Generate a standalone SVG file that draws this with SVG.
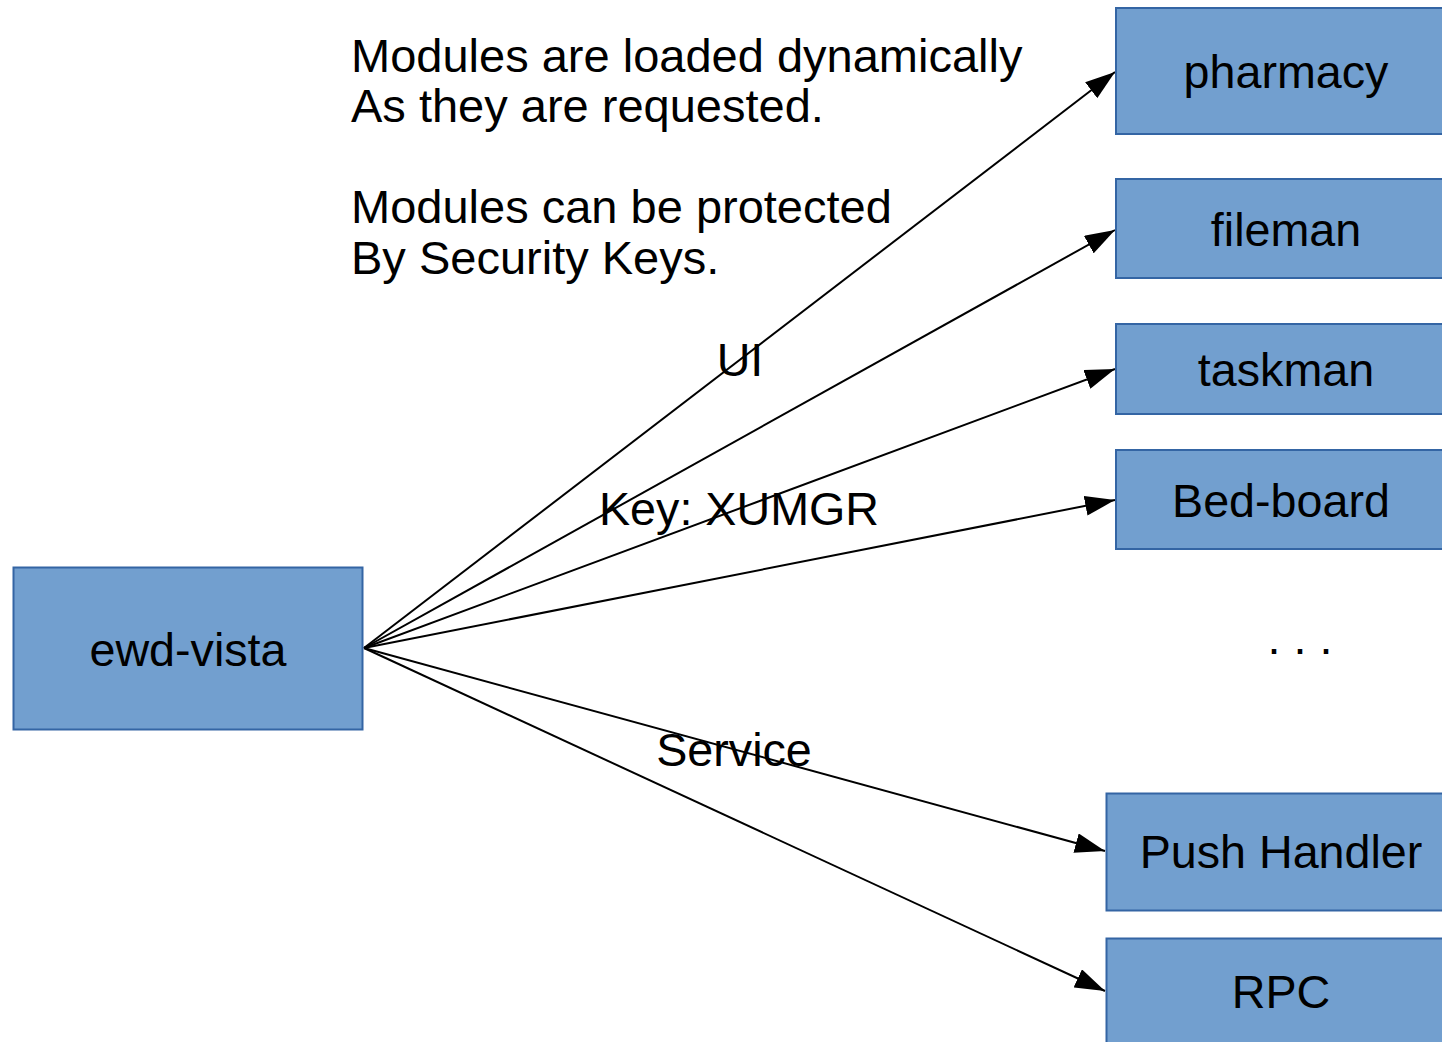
<svg xmlns="http://www.w3.org/2000/svg" width="1442" height="1042" viewBox="0 0 1442 1042">
<defs>
<marker id="arr" markerUnits="userSpaceOnUse" markerWidth="30" markerHeight="20" refX="30" refY="10" orient="auto" viewBox="0 0 30 20">
<path d="M0,0 L30,10 L0,20 z" fill="#000"/>
</marker>
<style>
.box{fill:#729fcf;stroke:#3465a4;stroke-width:2}
.t{font-family:"Liberation Sans",Arial,sans-serif;font-size:46.67px;fill:#000}
.n{font-size:47px}
.m{text-anchor:middle}
.c{stroke:#000;stroke-width:2;fill:none;marker-end:url(#arr)}
</style>
</defs>
<rect width="1442" height="1042" fill="#fff"/>
<g id="notes">
<text class="t n" x="351" y="72">Modules are loaded dynamically</text>
<text class="t n" x="351" y="122">As they are requested.</text>
<text class="t n" x="351" y="223">Modules can be protected</text>
<text class="t n" x="351" y="274">By Security Keys.</text>
</g>
<g id="connectors">
<line class="c" x1="364" y1="648" x2="1115" y2="72"/>
<line class="c" x1="364" y1="648" x2="1115" y2="230"/>
<line class="c" x1="364" y1="648" x2="1115" y2="369"/>
<line class="c" x1="364" y1="648" x2="1115" y2="500"/>
<line class="c" x1="364" y1="648" x2="1105" y2="851"/>
<line class="c" x1="364" y1="648" x2="1105" y2="991"/>
<text class="t m" x="740" y="376">UI</text>
<text class="t m" x="739" y="525">Key: XUMGR</text>
<text class="t m" x="734" y="766">Service</text>
</g>
<g id="ewd-vista">
<rect class="box" x="13.5" y="567.5" width="349" height="162"/>
<text class="t m" x="188" y="666">ewd-vista</text>
</g>
<g id="pharmacy">
<rect class="box" x="1116" y="8" width="340" height="126"/>
<text class="t m" x="1286" y="88">pharmacy</text>
</g>
<g id="fileman">
<rect class="box" x="1116" y="179" width="340" height="99"/>
<text class="t m" x="1286" y="246">fileman</text>
</g>
<g id="taskman">
<rect class="box" x="1116" y="324" width="340" height="90"/>
<text class="t m" x="1286" y="386">taskman</text>
</g>
<g id="bed-board">
<rect class="box" x="1116" y="450" width="340" height="99"/>
<text class="t m" x="1281" y="517">Bed-board</text>
</g>
<g id="ellipsis">
<text class="t m" x="1300" y="654">. . .</text>
</g>
<g id="push-handler">
<rect class="box" x="1106.5" y="793.5" width="350" height="117"/>
<text class="t m" x="1281" y="868">Push Handler</text>
</g>
<g id="rpc">
<rect class="box" x="1106.5" y="938.5" width="350" height="120"/>
<text class="t m" x="1281" y="1008">RPC</text>
</g>
</svg>
